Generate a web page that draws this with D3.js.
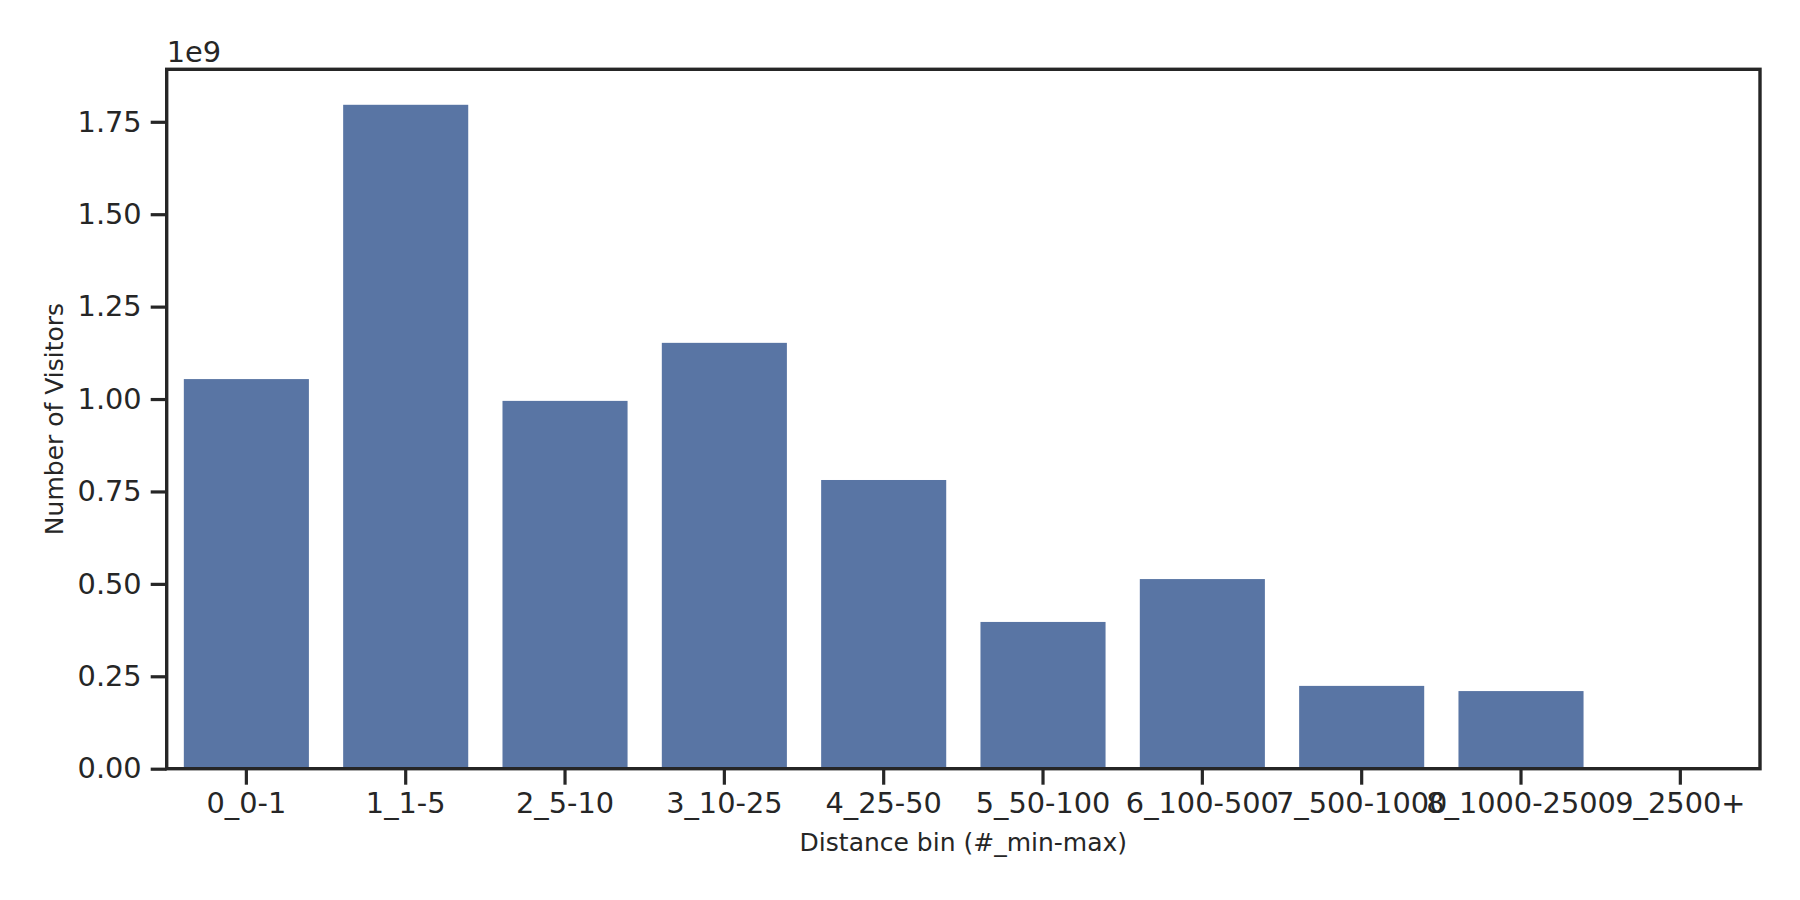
<!DOCTYPE html>
<html><head><meta charset="utf-8">
<script src="https://cdn.jsdelivr.net/npm/d3@7"></script>
<style>
body{margin:0;background:#fff;}
text{font-family:"DejaVu Sans",sans-serif;fill:#262626;}
</style></head>
<body><svg id="c" width="1800" height="900"></svg>
<script>
const categories = ["0_0-1","1_1-5","2_5-10","3_10-25","4_25-50","5_50-100","6_100-500","7_500-1000","8_1000-2500","9_2500+"];
const visitors = [1.054e9, 1.796e9, 0.995e9, 1.152e9, 0.781e9, 0.397e9, 0.513e9, 0.224e9, 0.210e9, 0];
const yTicks = [0, 0.25e9, 0.5e9, 0.75e9, 1.0e9, 1.25e9, 1.5e9, 1.75e9];

const svg = d3.select("#c");
const L = 166.7, R = 1760, T = 69.3, B = 768.7;
const ink = "#262626";

const x = d3.scaleBand().domain(categories).range([L, R]).paddingInner(0).paddingOuter(0);
const y = d3.scaleLinear().domain([0, 1.892e9]).range([B, T]);
const barFrac = 0.785;

svg.append("g").selectAll("rect").data(categories).join("rect")
  .attr("x", (d) => x(d) + x.bandwidth()*(1-barFrac)/2)
  .attr("width", x.bandwidth()*barFrac)
  .attr("y", (d,i) => y(visitors[i]))
  .attr("height", (d,i) => B - y(visitors[i]))
  .attr("fill", "#5975a4");

const tickFont = "28.8px";
const yAxis = d3.axisLeft(y).tickValues(yTicks).tickFormat(v => d3.format(".2f")(v/1e9)).tickSize(16).tickPadding(9);
const gy = svg.append("g").attr("transform", `translate(${L},0)`).call(yAxis);
gy.select(".domain").remove();
gy.selectAll(".tick line").attr("stroke", ink).attr("stroke-width", 3.2);
gy.selectAll(".tick text").attr("font-size", tickFont).attr("fill", ink).style("font-family","DejaVu Sans");

const xAxis = d3.axisBottom(x).tickSize(16).tickPadding(8);
const gx = svg.append("g").attr("transform", `translate(0,${B})`).call(xAxis);
gx.select(".domain").remove();
gx.selectAll(".tick line").attr("stroke", ink).attr("stroke-width", 3.2);
gx.selectAll(".tick text").attr("font-size", tickFont).attr("fill", ink).style("font-family","DejaVu Sans");

svg.append("rect").attr("x", L).attr("y", T).attr("width", R-L).attr("height", B-T)
  .attr("fill", "none").attr("stroke", ink).attr("stroke-width", 3.4);

svg.append("text").attr("x", L).attr("y", 62).attr("font-size", tickFont).text("1e9");
svg.append("text").attr("x", (L+R)/2).attr("y", 851).attr("text-anchor", "middle")
  .attr("font-size", "25px").text("Distance bin (#_min-max)");
svg.append("text").attr("transform", `translate(63,${(T+B)/2}) rotate(-90)`).attr("text-anchor", "middle")
  .attr("font-size", "25px").text("Number of Visitors");
</script></body></html>
